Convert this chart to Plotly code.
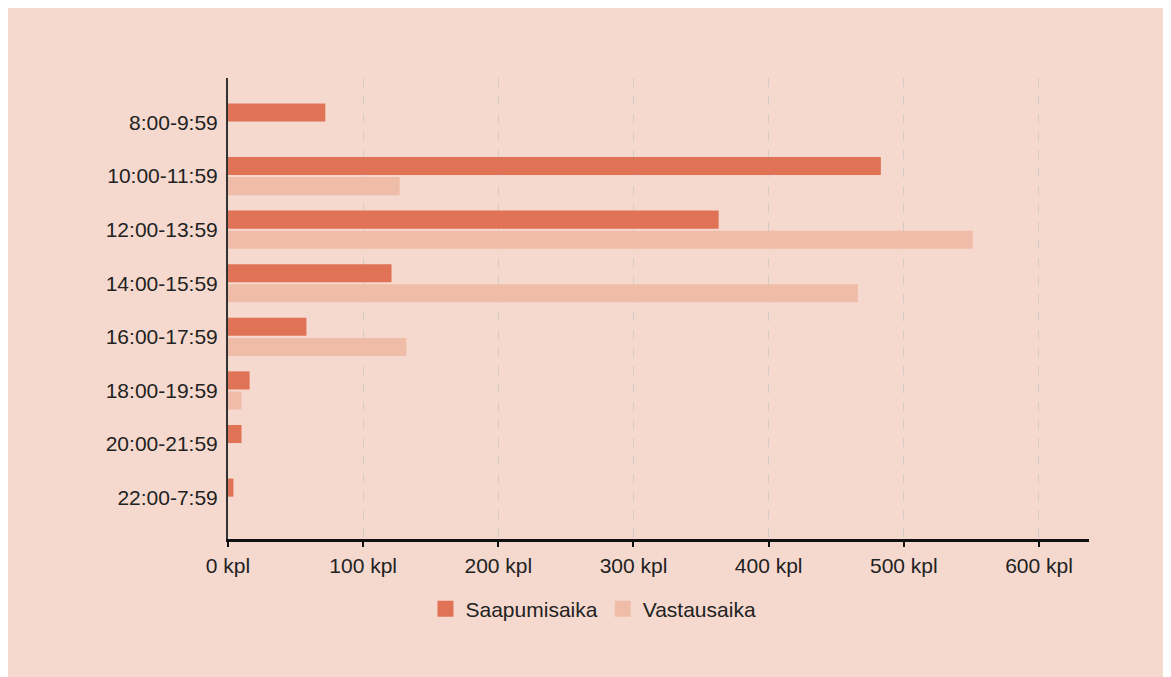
import plotly.graph_objects as go

# Time slots (top to bottom) and counts per series
time_slots = [
    "8:00-9:59", "10:00-11:59", "12:00-13:59", "14:00-15:59",
    "16:00-17:59", "18:00-19:59", "20:00-21:59", "22:00-7:59",
]
arrival_counts = [72, 483, 363, 121, 58, 16, 10, 4]
response_counts = [0, 127, 551, 466, 132, 10, 0, 0]

series_names = ["Saapumisaika", "Vastausaika"]
series_colors = ["#e07256", "#efbca8"]

BG = "#f6d9ce"
TEXT = "#222222"

fig = go.Figure()

for name, values, color in zip(series_names, [arrival_counts, response_counts], series_colors):
    fig.add_trace(go.Bar(
        y=time_slots,
        x=values,
        name=name,
        orientation="h",
        marker=dict(color=color, line=dict(width=0)),
        showlegend=False,
    ))

# legend entries with bigger square swatches than the bar default
for name, color in zip(series_names, series_colors):
    fig.add_trace(go.Scatter(
        x=[None],
        y=[None],
        mode="markers",
        name=name,
        marker=dict(symbol="square", size=18, color=color, line=dict(width=0)),
        hoverinfo="skip",
    ))

fig.update_layout(
    width=1171,
    height=677,
    barmode="group",
    bargap=0.25,
    bargroupgap=0.1,
    paper_bgcolor=BG,
    plot_bgcolor=BG,
    font=dict(family="Liberation Sans, Arial, sans-serif", size=21, color=TEXT),
    margin=dict(l=220, r=90, t=70, b=142),
    showlegend=True,
    legend=dict(
        orientation="h",
        xref="container",
        yref="container",
        x=0.5,
        xanchor="center",
        y=0.112,
        yanchor="middle",
        font=dict(size=21, color=TEXT),
        bgcolor="rgba(0,0,0,0)",
        traceorder="normal",
    ),
)

fig.update_xaxes(
    range=[0, 637],
    dtick=100,
    ticksuffix=" kpl",
    showgrid=True,
    gridcolor="#d4cbc7",
    gridwidth=1,
    griddash="dash",
    zeroline=False,
    showline=True,
    linecolor="#111111",
    linewidth=3,
    ticks="outside",
    ticklen=5,
    tickwidth=2,
    tickcolor="#111111",
)

fig.update_yaxes(
    type="category",
    range=[7.78, -0.83],
    showgrid=False,
    zeroline=False,
    showline=True,
    linecolor="#333333",
    linewidth=2,
    ticks="",
    ticklabelstandoff=4,
)

fig.write_html("out.html")
